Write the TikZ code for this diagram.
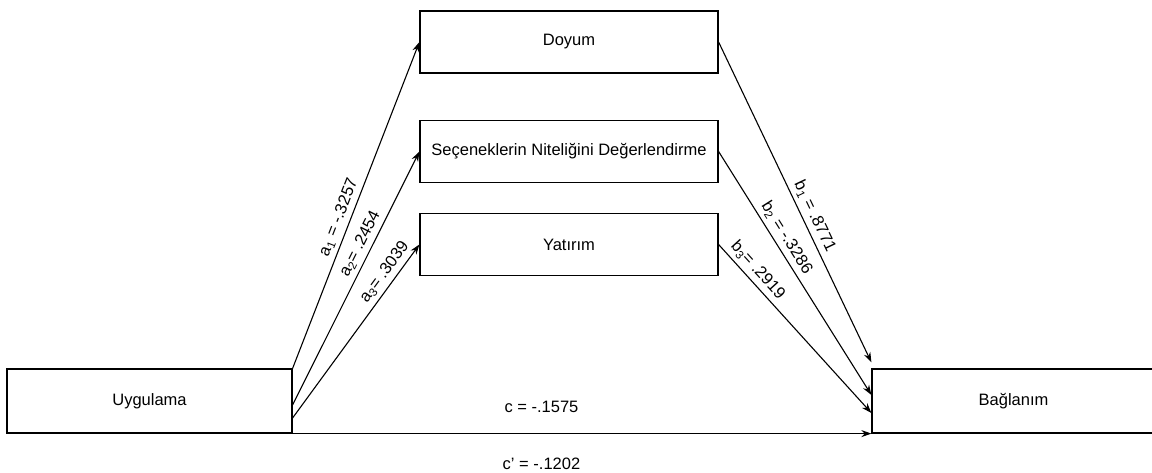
\documentclass[tikz,border=0pt]{standalone}
\usepackage{fontspec}
\setmainfont{Liberation Sans}
\usepackage{tikz}
\usetikzlibrary{arrows.meta}

\begin{document}
\begin{tikzpicture}[x=1pt, y=-1pt, >={Stealth[length=10pt,width=7pt]},
    font=\fontsize{16.5}{19}\selectfont,
    box/.style={draw, line width=1.2pt, inner sep=0pt, minimum width=298pt, minimum height=62pt},
    path/.style={->, line width=1.1pt},
    lbl/.style={sloped, above=3pt, inner sep=1pt}]
    \useasboundingbox (0,0) rectangle (1152,473);
    \node[box, minimum width=285pt, minimum height=64pt] (uyg) at (149.5,401) {Uygulama};
    \node[box, minimum width=283pt, minimum height=64pt] (bag) at (1013.5,401) {Bağlanım};
    \node[box] (doy) at (569,42) {Doyum};
    \node[box] (sec) at (569,151.5) {Seçeneklerin Niteliğini Değerlendirme};
    \node[box] (yat) at (569,244.5) {Yatırım};
    \draw[path] (uyg.north east) -- (doy.west) node[lbl, pos=0.45] {a\textsubscript{1} = -.3257};
    \draw[path] ([yshift=-4pt]uyg.east) -- (sec.west) node[lbl, pos=0.615] {a\textsubscript{2}= .2454};
    \draw[path] ([yshift=-17pt]uyg.east) -- (yat.west) node[lbl, pos=0.8] {a\textsubscript{3}= .3039};
    \draw[path] (doy.east) -- ([yshift=6pt]bag.north west) node[lbl, pos=0.56] {b\textsubscript{1} = .8771};
    \draw[path] (sec.east) -- ([yshift=6pt]bag.west) node[lbl, pos=0.38] {b\textsubscript{2} = -.3286};
    \draw[path] (yat.east) -- ([yshift=-12pt]bag.west) node[lbl, pos=0.2] {b\textsubscript{3}= .2919};
    \draw[path] (uyg.south east) -- (bag.south west)
        node[pos=0.43, yshift=27pt] {c = -.1575}
        node[pos=0.43, yshift=-30pt] {c' = -.1202};
\end{tikzpicture}
\end{document}
